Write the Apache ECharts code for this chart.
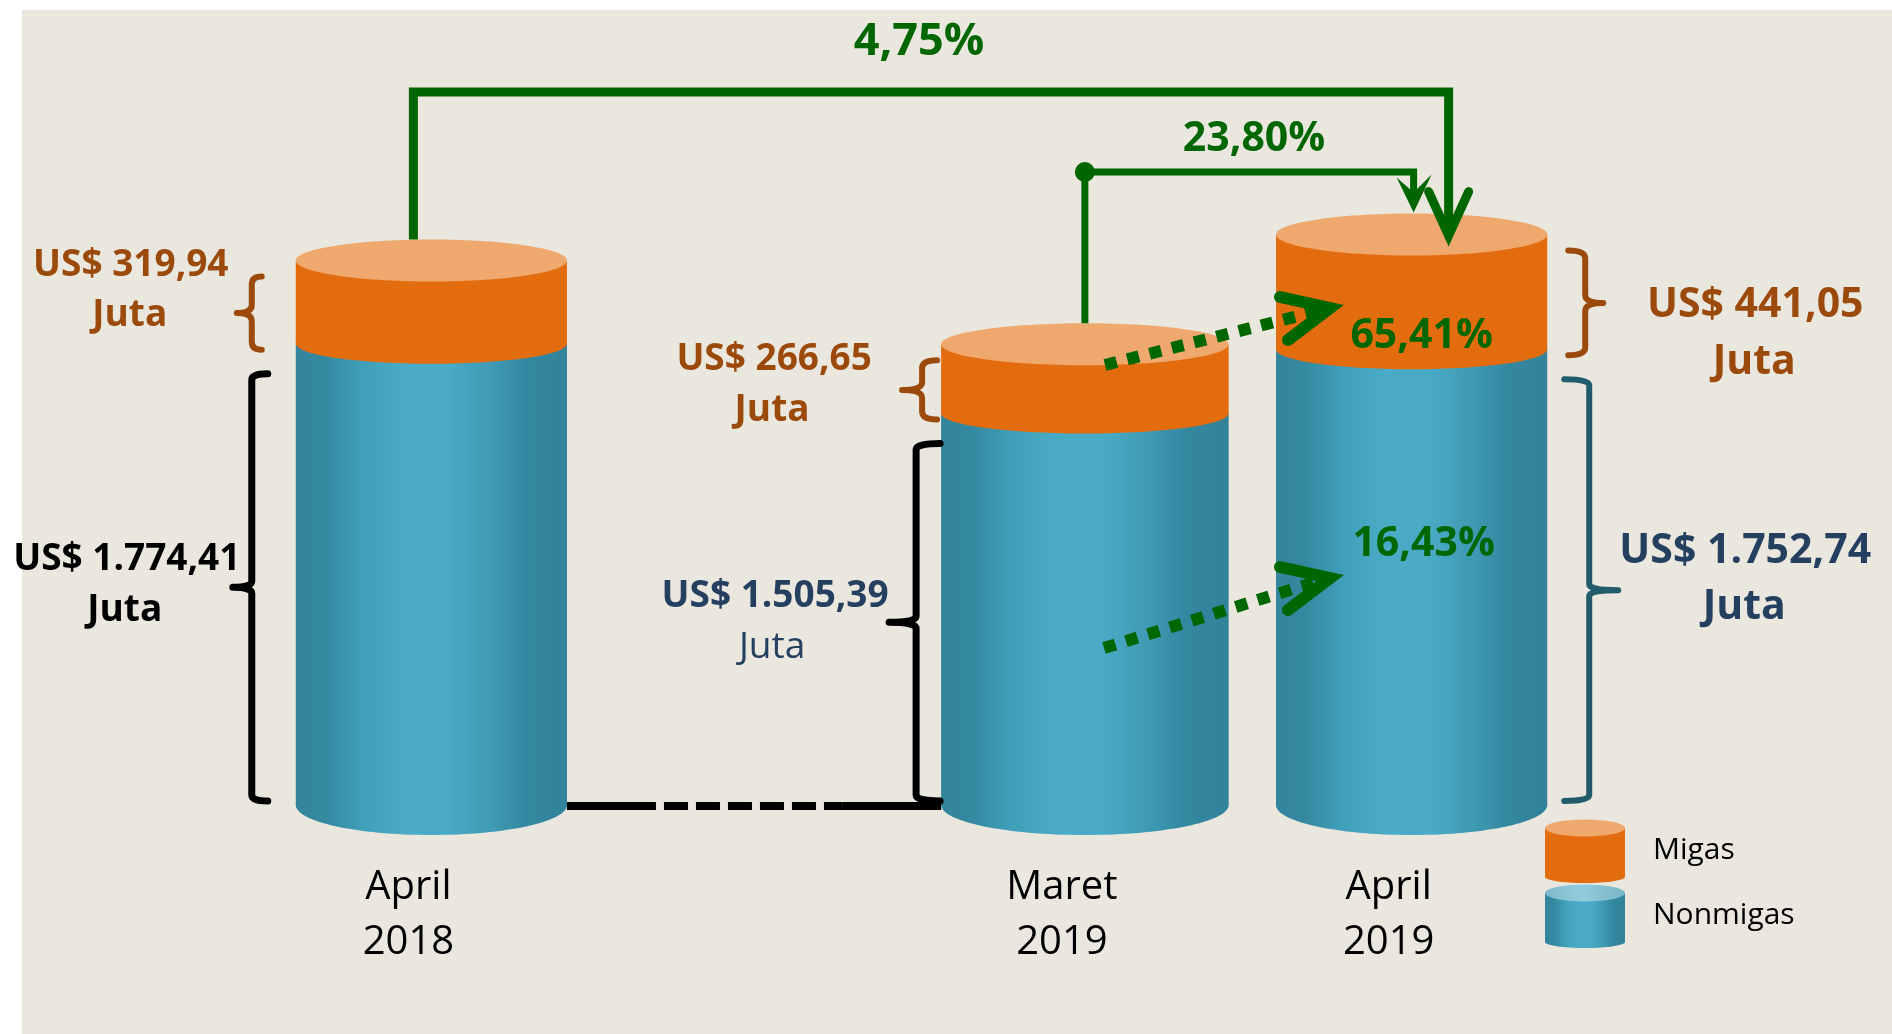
<!DOCTYPE html>
<html>
<head>
<meta charset="utf-8">
<script src="https://cdn.jsdelivr.net/npm/echarts@6/dist/echarts.min.js"></script>
<style>
  html, body, #main { margin: 0; width: 100%; height: 100%; background: #fff; }
</style>
</head>
<body>
<div id="main"></div>
<script>
// values in US$ juta; the blank category is only a spacer between the two years
var categories = ['April\n2018', '', 'Maret\n2019', 'April\n2019'];
var migas = [319.94, null, 266.65, 441.05];
var nonmigas = [1774.41, null, 1505.39, 1752.74];
var growthTotal = [4.75, 23.80];    // Apr 2019 vs Apr 2018, Apr 2019 vs Mar 2019
var growthParts = [65.41, 16.43];   // migas, nonmigas (Apr 2019 vs Mar 2019)
var legendNames = ['Migas', 'Nonmigas'];

var FONT = 'Open Sans';
var GREEN = '#006600';
var BROWN = '#9C4A0C';
var NAVY = '#243F60';
var TEAL = '#225B6B';
var ORANGE = '#E36C0E';
var ORANGE_TOP = '#EFA86E';
var WIDTH = [0.83, 0, 0.88, 0.83];  // cylinder width as share of the band

var blueSide = {
    type: 'linear', x: 0, y: 0, x2: 1, y2: 0,
    colorStops: [
        { offset: 0, color: '#32859D' },
        { offset: 0.1, color: '#34889F' },
        { offset: 0.25, color: '#40A0BA' },
        { offset: 0.4, color: '#4AABC6' },
        { offset: 0.56, color: '#4AABC6' },
        { offset: 0.72, color: '#3F9AB3' },
        { offset: 0.86, color: '#33879F' },
        { offset: 1, color: '#31839A' }
    ]
};
var blueTop = {
    type: 'linear', x: 0, y: 0, x2: 1, y2: 0,
    colorStops: [
        { offset: 0, color: '#7DB9CA' },
        { offset: 0.45, color: '#93CDDD' },
        { offset: 1, color: '#79B5C6' }
    ]
};

function idNum(v) {
    var p = v.toFixed(2).split('.');
    return p[0].replace(/\B(?=(\d{3})+(?!\d))/g, '.') + ',' + p[1];
}
function usd(v) { return 'US$ ' + idNum(v); }
function pct(v) { return idNum(v) + '%'; }

function txt(s, x, y, color, size, weight, align) {
    return {
        type: 'text', x: x, y: y,
        style: {
            text: s, fill: color, fontSize: size, fontWeight: weight || 'bold',
            fontFamily: FONT, align: align || 'center', verticalAlign: 'middle'
        }
    };
}

// bracket with hooks towards the cylinder and a tick pointing away
function brace(x, y1, y2, hook, tick, r, color, lw) {
    var ym = (y1 + y2) / 2, s = hook > 0 ? 1 : -1;
    var d = ['M', x + hook, y1, 'Q', x, y1, x, y1 + r, 'L', x, ym - r,
        'Q', x, ym, x - s * tick, ym, 'M', x - s * tick, ym, 'Q', x, ym, x, ym + r,
        'L', x, y2 - r, 'Q', x, y2, x + hook, y2].join(' ');
    return {
        el: {
            type: 'path', shape: { pathData: d },
            style: { fill: 'none', stroke: color, lineWidth: lw, lineCap: 'round', lineJoin: 'round' }
        },
        tx: x - s * tick, ym: ym
    };
}

function dotArrow(x1, y1, x2, y2) {
    return [
        { type: 'line', shape: { x1: x1, y1: y1, x2: x2 - 8, y2: y2 + 2 },
          style: { stroke: GREEN, lineWidth: 12, lineDash: [12, 11] } },
        { type: 'polyline', shape: { points: [[x2 - 50, y2 - 11], [x2, y2], [x2 - 42, y2 + 32]] },
          style: { fill: 'none', stroke: GREEN, lineWidth: 12, lineCap: 'round', lineJoin: 'miter' } }
    ];
}

var nmData = [], mgData = [];
categories.forEach(function (c, i) {
    if (nonmigas[i] == null) return;
    nmData.push([i, 0, nonmigas[i]]);
    mgData.push([i, nonmigas[i], nonmigas[i] + migas[i]]);
});

function renderCyl(kind) {
    return function (params, api) {
        var i = api.value(0);
        var lo = api.coord([i, api.value(1)]);
        var hi = api.coord([i, api.value(2)]);
        var w = api.size([1, 0])[0] * WIDTH[i];
        var rect = { x: lo[0] - w / 2, y: hi[1], width: w, height: lo[1] - hi[1] };
        if (kind === 'nm') {
            return { type: 'group', children: [
                { type: 'ellipse', shape: { cx: lo[0], cy: lo[1], rx: w / 2, ry: 30 }, style: { fill: blueSide } },
                { type: 'rect', shape: rect, style: { fill: blueSide } }
            ] };
        }
        return { type: 'group', children: [
            { type: 'ellipse', shape: { cx: lo[0], cy: lo[1], rx: w / 2, ry: 20 }, style: { fill: ORANGE } },
            { type: 'rect', shape: rect, style: { fill: ORANGE } },
            { type: 'ellipse', shape: { cx: lo[0], cy: hi[1], rx: w / 2, ry: 21 }, style: { fill: ORANGE_TOP } }
        ] };
    };
}

function renderNotes(params, api) {
    var band = api.size([1, 0])[0];
    function geom(i) {
        var b = api.coord([i, 0]);
        var m = api.coord([i, nonmigas[i]]);
        var t = api.coord([i, nonmigas[i] + migas[i]]);
        var w = band * WIDTH[i];
        return { cx: b[0], l: b[0] - w / 2, r: b[0] + w / 2, base: b[1], mid: m[1], top: t[1] };
    }
    var g1 = geom(0), g2 = geom(2), g3 = geom(3);
    var els = [];
    var b;

    // April 2018
    b = brace(g1.l - 44, g1.top + 16, g1.mid + 6, 10, 15, 8, BROWN, 6);
    els.push(b.el,
        txt(usd(migas[0]), b.tx - 106, b.ym - 48, BROWN, 37),
        txt('Juta', b.tx - 107, b.ym + 2, BROWN, 37));
    b = brace(g1.l - 44, g1.mid + 30, g1.base - 4, 16, 19, 6, '#000', 7);
    els.push(b.el,
        txt(usd(nonmigas[0]), b.tx - 106, b.ym - 28, '#000', 37),
        txt('Juta', b.tx - 108, b.ym + 23, '#000', 37));

    // Maret 2019
    b = brace(g2.l - 19, g2.top + 16, g2.mid + 6, 15, 20, 8, BROWN, 6);
    els.push(b.el,
        txt(usd(migas[2]), b.tx - 128, b.ym - 30, BROWN, 37),
        txt('Juta', b.tx - 130, b.ym + 21, BROWN, 37));
    b = brace(g2.l - 25, g2.mid + 30, g2.base - 4, 24, 27, 6, '#000', 7);
    els.push(b.el,
        txt(usd(nonmigas[2]), b.tx - 114, b.ym - 26, NAVY, 37),
        txt('Juta', b.tx - 117, b.ym + 25, NAVY, 37, 'normal'));

    // April 2019
    b = brace(g3.r + 38, g3.top + 16, g3.mid + 6, -17, 18, 8, BROWN, 6);
    els.push(b.el,
        txt(usd(migas[3]), b.tx + 152, b.ym + 2, BROWN, 41),
        txt('Juta', b.tx + 151, b.ym + 59, BROWN, 41));
    b = brace(g3.r + 42, g3.mid + 30, g3.base - 4, -25, 29, 6, TEAL, 6);
    els.push(b.el,
        txt(usd(nonmigas[3]), b.tx + 127, b.ym - 39, NAVY, 41),
        txt('Juta', b.tx + 126, b.ym + 17, NAVY, 41));

    // bottom link April 2018 -> Maret 2019
    var gapL = g1.r, gapR = g2.l, yb = g1.base + 1;
    els.push(
        { type: 'line', shape: { x1: gapL, y1: yb, x2: gapL + 89, y2: yb }, style: { stroke: '#000', lineWidth: 8 } },
        { type: 'line', shape: { x1: gapL + 97, y1: yb, x2: gapR - 99, y2: yb }, style: { stroke: '#000', lineWidth: 8, lineDash: [24, 8] } },
        { type: 'line', shape: { x1: gapR - 99, y1: yb, x2: gapR, y2: yb }, style: { stroke: '#000', lineWidth: 8 } }
    );

    // year-on-year connector
    var yLong = 92, ax = g3.cx + 37, ay = g3.top + 1;
    els.push(
        { type: 'polyline', shape: { points: [[g1.cx - 18, g1.top - 21], [g1.cx - 18, yLong], [ax, yLong], [ax, ay - 8]] },
          style: { fill: 'none', stroke: GREEN, lineWidth: 9, lineJoin: 'miter' } },
        { type: 'polyline', shape: { points: [[ax - 20, ay - 44], [ax, ay], [ax + 20, ay - 44]] },
          style: { fill: 'none', stroke: GREEN, lineWidth: 9, lineCap: 'round', lineJoin: 'miter' } },
        txt(pct(growthTotal[0]), 919, 42, GREEN, 45)
    );

    // month-on-month connector
    var yShort = 172, bx = g3.cx + 2, by = g3.top - 22;
    els.push(
        { type: 'polyline', shape: { points: [[g2.cx, g2.top - 21], [g2.cx, yShort], [bx, yShort], [bx, by - 16]] },
          style: { fill: 'none', stroke: GREEN, lineWidth: 7, lineJoin: 'miter' } },
        { type: 'circle', shape: { cx: g2.cx, cy: yShort, r: 10 }, style: { fill: GREEN } },
        { type: 'polygon', shape: { points: [[bx - 17, by - 35], [bx, by], [bx + 18, by - 38], [bx, by - 20]] },
          style: { fill: GREEN } },
        txt(pct(growthTotal[1]), 1254, 139, GREEN, 41)
    );

    // component growth
    els = els.concat(dotArrow(1105, 365, 1330, 308), dotArrow(1104, 648, 1330, 578));
    els.push(
        txt(pct(growthParts[0]), g3.cx + 10, 336, GREEN, 41),
        txt(pct(growthParts[1]), g3.cx + 12, 544, GREEN, 41)
    );

    // legend
    var lx = 1585, lw = 40;
    [[ORANGE, ORANGE_TOP, 828], [blueSide, blueTop, 893]].forEach(function (s, k) {
        var yt = s[2], yb2 = yt + 49;
        els.push(
            { type: 'ellipse', shape: { cx: lx, cy: yb2, rx: lw, ry: 6 }, style: { fill: s[0] } },
            { type: 'rect', shape: { x: lx - lw, y: yt, width: lw * 2, height: yb2 - yt }, style: { fill: s[0] } },
            { type: 'ellipse', shape: { cx: lx, cy: yt, rx: lw, ry: 8.5 }, style: { fill: s[1] } },
            txt(legendNames[k], 1653, yt + 22, '#000', 30, 'normal', 'left')
        );
    });

    return { type: 'group', children: els };
}

var chart = echarts.init(document.getElementById('main'));
chart.setOption({
    backgroundColor: '#fff',
    animation: false,
    graphic: [{
        type: 'rect', z: -10, silent: true,
        shape: { x: 22, y: 10, width: 1870, height: 1024 },
        style: { fill: '#EAE8DE' }
    }],
    grid: { left: 268, right: 317, top: 25, bottom: 229 },
    xAxis: {
        type: 'category',
        data: categories,
        axisLine: { show: false },
        axisTick: { show: false },
        axisLabel: {
            interval: 0, margin: 55, padding: [0, 46, 0, 0],
            fontFamily: FONT, fontSize: 40, lineHeight: 55, color: '#000'
        }
    },
    yAxis: { type: 'value', min: 0, max: 3000, show: false },
    series: [
        { name: 'Nonmigas', type: 'custom', silent: true, renderItem: renderCyl('nm'),
          encode: { x: 0, y: [1, 2] }, data: nmData },
        { name: 'Migas', type: 'custom', silent: true, renderItem: renderCyl('mg'),
          encode: { x: 0, y: [1, 2] }, data: mgData },
        { name: 'notes', type: 'custom', silent: true, renderItem: renderNotes,
          encode: { x: 0, y: 1 }, data: [[0, 0]] }
    ]
});
window.onresize = function () { chart.resize(); };
</script>
</body>
</html>
